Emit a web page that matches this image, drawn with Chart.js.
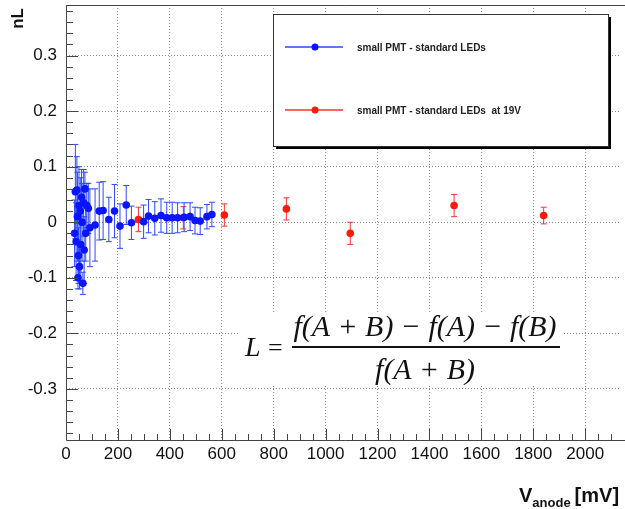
<!DOCTYPE html>
<html>
<head>
<meta charset="utf-8">
<script src="https://cdn.jsdelivr.net/npm/chart.js@4.4.1/dist/chart.umd.min.js"></script>
<style>
  body { margin: 0; background: #fff; }
  #wrap { width: 625px; height: 509px; position: relative; }
</style>
</head>
<body>
<div id="wrap"><canvas id="nl"></canvas></div>
<script>
// small PMT - standard LEDs
const blueV = [33, 36, 39, 42, 44, 46, 48, 50, 52, 55, 57, 60, 62, 65, 68, 70, 73, 76, 80, 86, 92,
  112, 128, 143, 165, 187, 208, 232, 252, 299, 318, 342, 366, 388, 409, 430, 455, 478, 497, 517, 543, 562]
const blueNL = [-0.02, 0.055, -0.035, 0.058, 0.01, -0.10, -0.06, 0.03, -0.08, 0.02, -0.04, 0.045, 0.0, -0.11, 0.035, -0.05, 0.06, -0.02, 0.03, 0.025, -0.01,
  -0.005, 0.020, 0.021, 0.005, 0.020, -0.007, 0.031, -0.001, 0.001, 0.011, 0.007, 0.012, 0.008, 0.008, 0.008, 0.009, 0.010, 0.003, 0.002, 0.010, 0.014]
const blueErr = [0.06, 0.085, 0.07, 0.06, 0.08, 0.02, 0.05, 0.07, 0.04, 0.06, 0.07, 0.05, 0.07, 0.02, 0.06, 0.06, 0.03, 0.05, 0.04, 0.045, 0.07,
  0.065, 0.052, 0.052, 0.04, 0.048, 0.04, 0.035, 0.03, 0.03, 0.03, 0.03, 0.03, 0.028, 0.028, 0.027, 0.026, 0.025, 0.024, 0.024, 0.022, 0.022]

// small PMT - standard LEDs at 19V
const redV = [279, 452, 610, 849, 1095, 1495, 1840]
const redNL = [0.005, 0.008, 0.013, 0.024, -0.020, 0.030, 0.012]
const redErr = [0.022, 0.02, 0.02, 0.02, 0.02, 0.02, 0.015]

const legendLabels = ['small PMT - standard LEDs', 'small PMT - standard LEDs  at 19V']

const xMajor = 200, xMinor = 50
const yMajor = 0.1, yMinor = 0.02

function pts(xs, ys, es) {
  return xs.map((x, i) => ({ x: x, y: ys[i], e: es[i] }))
}

// vertical error bars with caps, drawn under each dataset's markers
const errorBars = {
  id: 'errorBars',
  beforeDatasetDraw(chart, args) {
    const ds = chart.data.datasets[args.index]
    const { ctx, scales: { x, y } } = chart
    ctx.save()
    ctx.strokeStyle = ds.errColor
    ctx.lineWidth = 1
    ds.data.forEach(p => {
      const px = x.getPixelForValue(p.x)
      const top = y.getPixelForValue(p.y + p.e)
      const bot = y.getPixelForValue(p.y - p.e)
      ctx.beginPath()
      ctx.moveTo(px, top); ctx.lineTo(px, bot)
      ctx.moveTo(px - 3, top); ctx.lineTo(px + 3, top)
      ctx.moveTo(px - 3, bot); ctx.lineTo(px + 3, bot)
      ctx.stroke()
    })
    ctx.restore()
  }
}

// ROOT-like frame, inner ticks, legend box, formula, axis titles
const decor = {
  id: 'decor',
  afterDraw(chart) {
    const { ctx, chartArea: a, scales: { x, y } } = chart
    ctx.save()
    // frame
    ctx.strokeStyle = '#444'
    ctx.lineWidth = 1
    ctx.beginPath()
    ctx.moveTo(625, a.top + 0.5); ctx.lineTo(a.left + 0.5, a.top + 0.5)
    ctx.lineTo(a.left + 0.5, a.bottom + 0.5); ctx.lineTo(625, a.bottom + 0.5)
    ctx.stroke()
    // ticks
    ctx.beginPath()
    for (let v = 0; v <= x.max; v += xMinor) {
      const px = Math.round(x.getPixelForValue(v)) + 0.5
      const len = v % xMajor === 0 ? 11 : 6
      ctx.moveTo(px, a.bottom); ctx.lineTo(px, a.bottom - len)
    }
    for (let k = Math.ceil(y.min / yMinor); k * yMinor <= y.max; k++) {
      const py = Math.round(y.getPixelForValue(k * yMinor)) + 0.5
      const len = k % 5 === 0 ? 12 : 7
      ctx.moveTo(a.left, py); ctx.lineTo(a.left + len, py)
    }
    ctx.stroke()

    // legend box
    const lx = 273, ly = 14, lw = 335, lh = 132
    ctx.fillStyle = '#000'
    ctx.fillRect(lx + 3, ly + 3, lw, lh)
    ctx.fillStyle = '#fff'
    ctx.fillRect(lx, ly, lw, lh)
    ctx.strokeStyle = '#333'
    ctx.strokeRect(lx + 0.5, ly + 0.5, lw, lh)
    const rows = [47, 110]
    chart.data.datasets.forEach((ds, i) => {
      const ry = rows[i]
      ctx.strokeStyle = ds.errColor
      ctx.lineWidth = 1.5
      ctx.beginPath(); ctx.moveTo(285, ry); ctx.lineTo(343, ry); ctx.stroke()
      ctx.fillStyle = ds.backgroundColor
      ctx.beginPath(); ctx.arc(315, ry, 3.5, 0, Math.PI * 2); ctx.fill()
      ctx.fillStyle = '#222'
      ctx.font = 'bold 10px "Liberation Sans", Arial'
      ctx.textBaseline = 'middle'
      ctx.textAlign = 'left'
      ctx.fillText(legendLabels[i], 357, ry + 1)
    })

    // formula
    ctx.fillStyle = '#fff'
    ctx.fillRect(240, 312, 324, 72)
    ctx.fillStyle = '#111'
    ctx.textBaseline = 'alphabetic'
    const num = 'f(A + B) \u2212 f(A) \u2212 f(B)'
    let fs = 26
    ctx.font = 'italic ' + fs + 'px "Liberation Serif", serif'
    fs = fs * 263 / ctx.measureText(num).width
    ctx.font = 'italic ' + fs.toFixed(1) + 'px "Liberation Serif", serif'
    ctx.textAlign = 'center'
    ctx.fillText(num, 425, 336)
    ctx.fillText('f(A + B)', 425, 379)
    ctx.font = 'italic 28px "Liberation Serif", serif'
    ctx.textAlign = 'left'
    ctx.fillText('L', 245, 356)
    ctx.font = '26px "Liberation Serif", serif'
    ctx.fillText('=', 268, 356)
    ctx.fillRect(292, 346, 268, 2)

    // axis titles
    ctx.fillStyle = '#111'
    ctx.font = 'bold 17px "Liberation Sans", Arial'
    ctx.textAlign = 'right'
    ctx.textBaseline = 'middle'
    ctx.save()
    ctx.translate(18, 8)
    ctx.rotate(-Math.PI / 2)
    ctx.fillText('nL', 0, 0)
    ctx.restore()
    ctx.textAlign = 'left'
    ctx.textBaseline = 'alphabetic'
    let tx = 519
    ctx.font = 'bold 20px "Liberation Sans", Arial'
    ctx.fillText('V', tx, 502)
    tx += ctx.measureText('V').width
    ctx.font = 'bold 13px "Liberation Sans", Arial'
    ctx.fillText('anode', tx, 507)
    tx += ctx.measureText('anode').width + 4
    ctx.font = 'bold 20px "Liberation Sans", Arial'
    ctx.fillText('[mV]', tx, 502)
    ctx.restore()
  }
}

const nlConfig = {
  type: 'scatter',
  data: {
    datasets: [
      {
        label: legendLabels[0],
        data: pts(blueV, blueNL, blueErr),
        backgroundColor: '#0a14ff',
        borderColor: '#0a14ff',
        errColor: '#2c48ff',
        pointRadius: 3.8,
        pointBorderWidth: 0,
      },
      {
        label: legendLabels[1],
        data: pts(redV, redNL, redErr),
        backgroundColor: '#ff1a0a',
        borderColor: '#ff1a0a',
        errColor: '#ff3030',
        pointRadius: 3.8,
        pointBorderWidth: 0,
      },
    ],
  },
  options: {
    responsive: true,
    maintainAspectRatio: false,
    animation: false,
    layout: { padding: { top: 5, left: 0, right: 0, bottom: 0 } },
    plugins: { legend: { display: false }, tooltip: { enabled: false } },
    scales: {
      x: {
        type: 'linear',
        min: 0,
        max: 2138,
        afterFit: s => { s.height = 69; s.paddingLeft = 0; s.paddingRight = 0 },
        border: { display: false, dash: [1, 2] },
        grid: { color: '#8a8a8a', drawTicks: false, lineWidth: 1 },
        ticks: {
          stepSize: xMajor,
          includeBounds: false,
          padding: 4,
          color: '#111',
          font: { size: 17, family: '"Liberation Sans", Arial' },
          maxRotation: 0,
          autoSkip: false,
          callback: v => String(Math.round(v)),
        },
      },
      y: {
        type: 'linear',
        min: -0.392,
        max: 0.391,
        afterFit: s => { s.width = 66; s.paddingTop = 0; s.paddingBottom = 0 },
        border: { display: false, dash: [1, 2] },
        grid: { color: '#8a8a8a', drawTicks: false, lineWidth: 1 },
        ticks: {
          stepSize: yMajor,
          includeBounds: false,
          padding: 9,
          color: '#111',
          font: { size: 17, family: '"Liberation Sans", Arial' },
          callback: v => Math.abs(v) < 1e-9 ? '0' : v.toFixed(1),
        },
      },
    },
  },
  plugins: [errorBars, decor],
}

const nlCtx = document.getElementById('nl')
window.nlChart = new Chart(nlCtx, nlConfig)
</script>
</body>
</html>
